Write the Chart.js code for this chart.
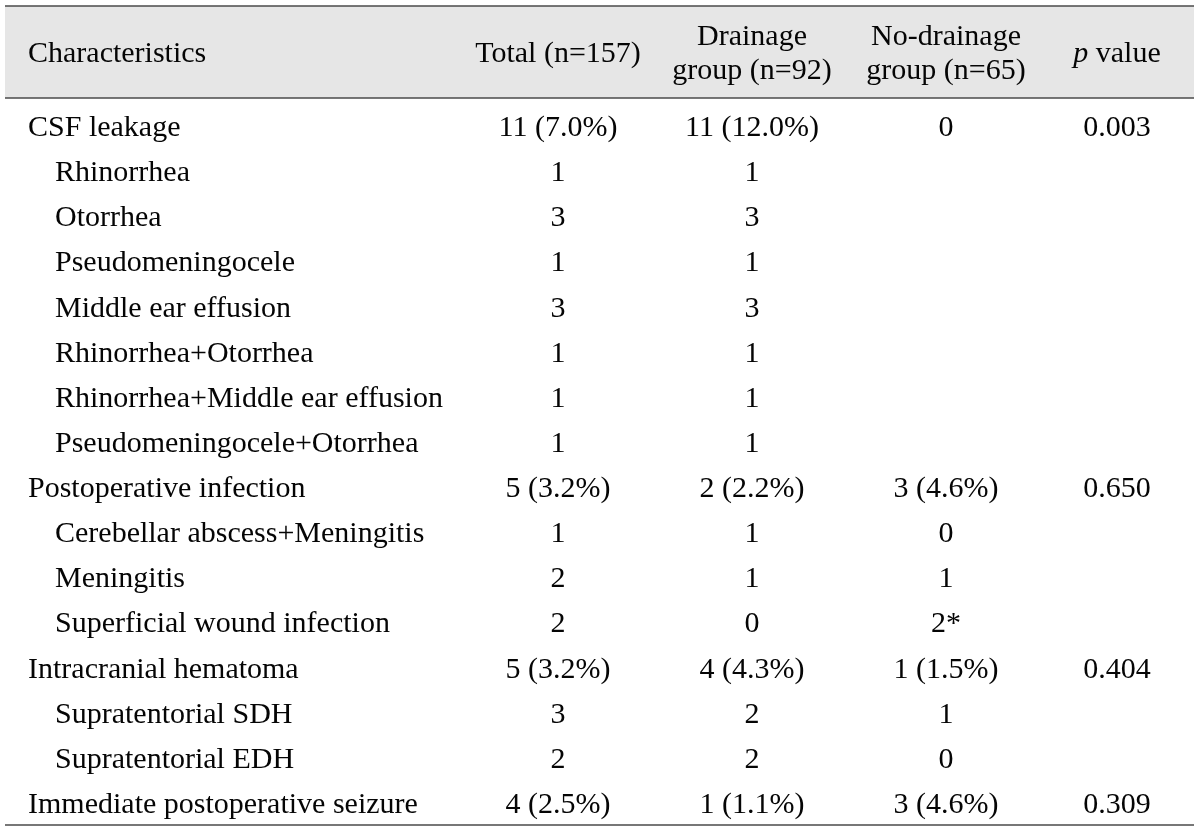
<!DOCTYPE html>
<html><head><meta charset="utf-8">
<script src="https://cdn.jsdelivr.net/npm/chart.js@4/dist/chart.umd.min.js"></script>
<style>html,body{margin:0;padding:0;background:#fff}#wrap{width:1200px;height:830px;position:relative}</style>
</head><body><div id="wrap"><canvas id="c" width="1200" height="830"></canvas></div>
<script>
// ---- data ----
const characteristics = [
  "CSF leakage","Rhinorrhea","Otorrhea","Pseudomeningocele","Middle ear effusion",
  "Rhinorrhea+Otorrhea","Rhinorrhea+Middle ear effusion","Pseudomeningocele+Otorrhea",
  "Postoperative infection","Cerebellar abscess+Meningitis","Meningitis","Superficial wound infection",
  "Intracranial hematoma","Supratentorial SDH","Supratentorial EDH","Immediate postoperative seizure"
];
const indentLevel = [0,1,1,1,1,1,1,1,0,1,1,1,0,1,1,0];
const totalValues = ["11 (7.0%)","1","3","1","3","1","1","1","5 (3.2%)","1","2","2","5 (3.2%)","3","2","4 (2.5%)"];
const drainageValues = ["11 (12.0%)","1","3","1","3","1","1","1","2 (2.2%)","1","1","0","4 (4.3%)","2","2","1 (1.1%)"];
const noDrainageValues = ["0",null,null,null,null,null,null,null,"3 (4.6%)","0","1","2*","1 (1.5%)","1","0","3 (4.6%)"];
const pValues = ["0.003",null,null,null,null,null,null,null,"0.650",null,null,null,"0.404",null,null,"0.309"];
const columnHeaders = [["Characteristics"],["Total (n=157)"],["Drainage","group (n=92)"],["No-drainage","group (n=65)"],["p value"]];

// ---- layout / style ----
const FONT = '30px "Liberation Serif", "DejaVu Serif", serif';
const ITALIC_FONT = 'italic 30px "Liberation Serif", "DejaVu Serif", serif';
const TEXT_COLOR = '#050505';
const HEADER_BG = '#e6e6e6';
const RULE_COLOR = '#4a4a4a';
const X_UNITS = 1200;              // table width units
const labelX = [28, 55];           // left edge of label by indent level
const columnCenter = [0, 558, 752, 946, 1117];
const tableLeft = 5, tableRight = 1194;
const Y_MIN = -2.659, Y_MAX = 15.489;  // rows: 0..15, header above
const HEADER_RULE = -0.620;
const HEADER_ROW = -1.640;         // center of header band (in row units)
const HEADER_LINE_GAP = 0.377;     // half-gap between 2 header lines (row units)
const BASELINE_SHIFT = 10;

function cellsFor(values, col){
  const out = [];
  values.forEach((v,i)=>{ if(v!==null) out.push({x: columnCenter[col], y: i, text: v}); });
  return out;
}
const labelPoints = characteristics.map((t,i)=>({x: labelX[indentLevel[i]], y: i, text: t}));

const tablePlugin = {
  id: 'tableDraw',
  beforeDatasetsDraw(chart){
    const {ctx, chartArea:a, scales:{x,y}} = chart;
    const left = x.getPixelForValue(tableLeft), right = x.getPixelForValue(tableRight);
    const top = a.top, hr = y.getPixelForValue(HEADER_RULE), bottom = a.bottom;
    ctx.save();
    ctx.fillStyle = HEADER_BG;
    ctx.fillRect(left, top, right-left, hr-top);
    ctx.strokeStyle = RULE_COLOR; ctx.lineWidth = 1.6;
    [top, hr, bottom].forEach(yy=>{ ctx.beginPath(); ctx.moveTo(left, yy); ctx.lineTo(right, yy); ctx.stroke(); });
    // header texts
    ctx.fillStyle = TEXT_COLOR; ctx.textBaseline = 'alphabetic';
    columnHeaders.forEach((lines, c)=>{
      lines.forEach((ln, k)=>{
        const off = lines.length === 1 ? 0 : (k === 0 ? -HEADER_LINE_GAP : HEADER_LINE_GAP);
        const py = y.getPixelForValue(HEADER_ROW + off) + BASELINE_SHIFT;
        if (c === 0) {
          ctx.font = FONT; ctx.textAlign = 'left';
          ctx.fillText(ln, x.getPixelForValue(labelX[0]), py);
        } else if (ln.startsWith('p ')) {
          ctx.font = ITALIC_FONT; const w1 = ctx.measureText('p').width;
          ctx.font = FONT; const w2 = ctx.measureText(ln.slice(1)).width;
          const sx = x.getPixelForValue(columnCenter[c]) - (w1+w2)/2;
          ctx.textAlign = 'left';
          ctx.font = ITALIC_FONT; ctx.fillText('p', sx, py);
          ctx.font = FONT; ctx.fillText(ln.slice(1), sx + w1, py);
        } else {
          ctx.font = FONT; ctx.textAlign = 'center';
          ctx.fillText(ln, x.getPixelForValue(columnCenter[c]), py);
        }
      });
    });
    ctx.restore();
  },
  afterDatasetsDraw(chart){
    const {ctx} = chart;
    ctx.save();
    ctx.fillStyle = TEXT_COLOR; ctx.font = FONT; ctx.textBaseline = 'alphabetic';
    chart.data.datasets.forEach((ds, di)=>{
      const meta = chart.getDatasetMeta(di);
      ctx.textAlign = ds.textAlign || 'center';
      meta.data.forEach((el, j)=>{
        ctx.fillText(ds.data[j].text, el.x, el.y + BASELINE_SHIFT);
      });
    });
    ctx.restore();
  }
};

new Chart(document.getElementById('c'), {
  type: 'scatter',
  data: { datasets: [
    {label: 'Characteristics', data: labelPoints, textAlign: 'left'},
    {label: 'Total (n=157)', data: cellsFor(totalValues, 1)},
    {label: 'Drainage group (n=92)', data: cellsFor(drainageValues, 2)},
    {label: 'No-drainage group (n=65)', data: cellsFor(noDrainageValues, 3)},
    {label: 'p value', data: cellsFor(pValues, 4)}
  ].map(d=>Object.assign({pointRadius:0, pointHoverRadius:0, showLine:false}, d)) },
  options: {
    responsive: false, animation: false, events: [],
    layout: { padding: {top: 6, bottom: 5, left: 0, right: 0} },
    plugins: { legend: {display:false}, tooltip: {enabled:false} },
    scales: {
      x: { type:'linear', min:0, max:X_UNITS, display:false },
      y: { type:'linear', min:Y_MIN, max:Y_MAX, reverse:true, display:false }
    }
  },
  plugins: [tablePlugin]
});
</script></body></html>
